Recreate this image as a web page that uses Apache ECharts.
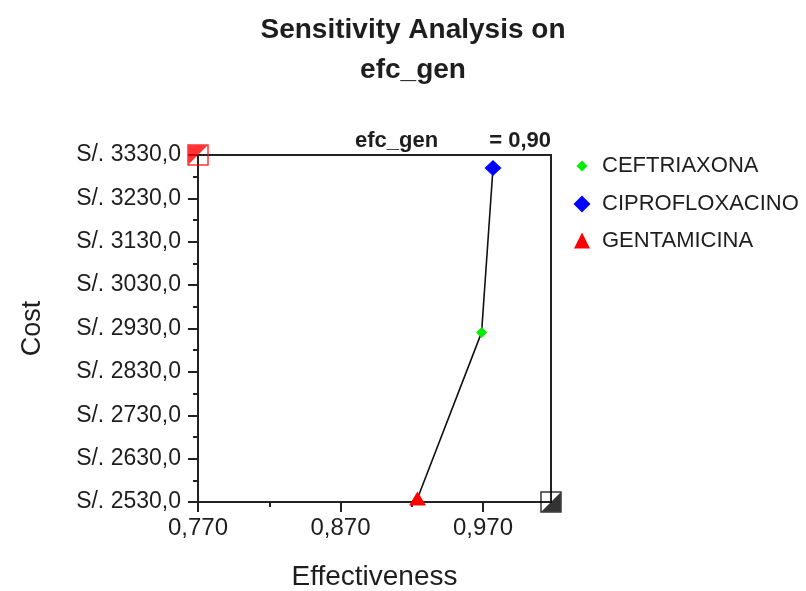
<!DOCTYPE html>
<html><head><meta charset="utf-8">
<script src="https://cdn.jsdelivr.net/npm/echarts@6/dist/echarts.min.js"></script>
<style>html,body{margin:0;padding:0;background:#fff}#c{width:806px;height:591px}</style>
</head><body><div id="c"></div>
<script>
// ---- data ----
const treatments = ['CEFTRIAXONA', 'CIPROFLOXACINO', 'GENTAMICINA'];
const effectiveness = [0.969, 0.977, 0.924];
const costs = [2921, 3300, 2538];
const xTicks = [0.770, 0.870, 0.970];
const xMinorTicks = [0.820, 0.920];
const yTicks = [2530, 2630, 2730, 2830, 2930, 3030, 3130, 3230, 3330];
const yMinorTicks = [2580, 2680, 2780, 2880, 2980, 3080, 3180, 3280];
const xRange = [0.770, 1.0177];
const yRange = [2530, 3330];
const titleText = 'Sensitivity Analysis on\nefc_gen';
const paramName = 'efc_gen';
const paramValue = '= 0,90';

// ---- styling ----
const FONT = 'Liberation Sans, Arial, sans-serif';
const INK = '#1e1e1e';
const markerStyle = {
  CEFTRIAXONA: {symbol: 'diamond', size: 11, color: '#00ee00', legend: 11},
  CIPROFLOXACINO: {symbol: 'diamond', size: [17, 16], color: '#0000ff', legend: 17},
  GENTAMICINA: {symbol: 'triangle', size: [17, 14], color: '#ff0000', legend: 16}
};
const legendTops = [155, 193, 229.5];
const legendIconX = 582, legendTextX = 602;

const fmtX = v => v.toFixed(3).replace('.', ',');
const fmtY = v => 'S/. ' + v.toFixed(1).replace('.', ',');

// frontier line sorted by cost
const order = treatments.map((t, i) => i).sort((a, b) => costs[a] - costs[b]);
const frontier = order.map(i => [effectiveness[i], costs[i]]);

const series = [{
  type: 'line', name: 'frontier', data: frontier, symbol: 'none',
  lineStyle: {color: '#111', width: 1.6}, z: 2, silent: true
}];
treatments.forEach((t, i) => {
  const m = markerStyle[t];
  series.push({
    type: 'scatter', name: t, data: [[effectiveness[i], costs[i]]],
    symbol: m.symbol, symbolSize: m.size, itemStyle: {color: m.color, opacity: 1}, z: 5
  });
});
// corner markers
series.push(
  {type: 'scatter', name: 'c1', data: [[xRange[0], yRange[1]]], symbol: 'path://M0,0L1,0L0,1Z', symbolSize: 19, itemStyle: {color: '#ff0000'}, z: 6, silent: true},
  {type: 'scatter', name: 'c2', data: [[xRange[0], yRange[1]]], symbol: 'rect', symbolSize: 20, itemStyle: {color: 'transparent', borderColor: '#ff0000', borderWidth: 1.5}, z: 6, silent: true},
  {type: 'scatter', name: 'c3', data: [[xRange[1], yRange[0]]], symbol: 'path://M1,0L1,1L0,1Z', symbolSize: 19, itemStyle: {color: '#000'}, z: 6, silent: true},
  {type: 'scatter', name: 'c4', data: [[xRange[1], yRange[0]]], symbol: 'rect', symbolSize: 20, itemStyle: {color: 'transparent', borderColor: '#000', borderWidth: 1.5}, z: 6, silent: true}
);

const legends = treatments.map((t, i) => {
  const w = markerStyle[t].legend;
  const left = legendIconX - w / 2;
  const pad = legendTextX - (left + w + 5);
  return {
    data: [{name: t, icon: markerStyle[t].symbol}],
    left: left, top: legendTops[i], padding: 0,
    itemWidth: w, itemHeight: w,
    selectedMode: false,
    textStyle: {fontFamily: FONT, fontSize: 22, color: INK, padding: [0, 0, 0, pad]}
  };
});

const chart = echarts.init(document.getElementById('c'), null, {renderer: 'canvas'});
chart.setOption({
  animation: false,
  backgroundColor: '#fff',
  title: [
    {text: titleText, left: 413, textAlign: 'center', top: 10, padding: 0,
     textStyle: {fontFamily: FONT, fontSize: 28, fontWeight: 'bold', color: INK, lineHeight: 40}},
    {text: paramName, left: 355, top: 130, padding: 0,
     textStyle: {fontFamily: FONT, fontSize: 22, fontWeight: 'bold', color: INK}},
    {text: paramValue, right: 255, top: 130, padding: 0,
     textStyle: {fontFamily: FONT, fontSize: 22, fontWeight: 'bold', color: INK}}
  ],
  legend: legends,
  grid: {left: 198, right: 255, top: 155, bottom: 89, show: true, borderColor: '#222', borderWidth: 2,
         containLabel: false, outerBoundsMode: 'none'},
  xAxis: [{
    type: 'value', min: xRange[0], max: xRange[1], position: 'bottom',
    name: 'Effectiveness', nameLocation: 'middle', nameGap: 61,
    nameTextStyle: {fontFamily: FONT, fontSize: 28, color: INK},
    axisLine: {show: true, lineStyle: {color: '#222', width: 2}},
    axisTick: {show: true, customValues: xTicks, length: 10, lineStyle: {color: '#222', width: 2}},
    axisLabel: {customValues: xTicks, formatter: fmtX, margin: 14, fontFamily: FONT, fontSize: 24, color: INK},
    splitLine: {show: false}
  }, {
    type: 'value', min: xRange[0], max: xRange[1], position: 'bottom',
    axisLine: {show: false},
    axisTick: {show: true, customValues: xMinorTicks, length: 5, lineStyle: {color: '#222', width: 2}},
    axisLabel: {show: false}, splitLine: {show: false}
  }],
  yAxis: [{
    type: 'value', min: yRange[0], max: yRange[1], position: 'left',
    name: 'Cost', nameLocation: 'middle', nameGap: 152, nameRotate: 90,
    nameTextStyle: {fontFamily: FONT, fontSize: 27, color: INK},
    axisLine: {show: true, lineStyle: {color: '#222', width: 2}},
    axisTick: {show: true, customValues: yTicks, length: 10, lineStyle: {color: '#222', width: 2}},
    axisLabel: {customValues: yTicks, formatter: fmtY, margin: 17, fontFamily: FONT, fontSize: 23, color: INK},
    splitLine: {show: false}
  }, {
    type: 'value', min: yRange[0], max: yRange[1], position: 'left',
    axisLine: {show: false},
    axisTick: {show: true, customValues: yMinorTicks, length: 5, lineStyle: {color: '#222', width: 2}},
    axisLabel: {show: false}, splitLine: {show: false}
  }],
  series: series
});
</script>
</body></html>
